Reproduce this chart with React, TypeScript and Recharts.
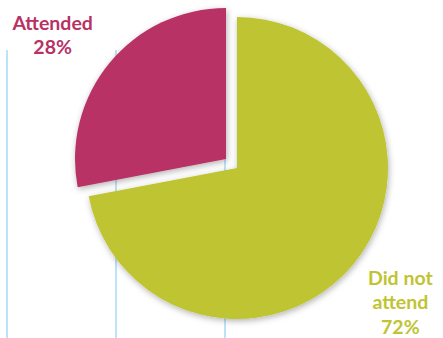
import React from "react";
import { PieChart, Pie, Cell } from "recharts";

const categories = ["Did not attend", "Attended"];
const values = [72, 28];
const labelLines = [["Did not", "attend", "72%"], ["Attended", "28%"]];
const colors = ["#BFC432", "#B83265"];
const gridLineX = [7, 116, 225];

const data = categories.map((name, i) => ({ name, value: values[i] }));
const RAD = Math.PI / 180;
const labelShift = [
  { dx: 0, dy: 0 },
  { dx: -10, dy: 12 },
];

const makeLabel = (visibleIndex: number) => (props: any) => {
  const { cx, cy, midAngle, outerRadius, index } = props;
  if (index !== visibleIndex) return null;
  const r = outerRadius + 61;
  const x = cx + r * Math.cos(-midAngle * RAD) + labelShift[index].dx;
  const y = cy + r * Math.sin(-midAngle * RAD) + labelShift[index].dy;
  const lines = labelLines[index];
  const L = 24.5;
  const first = y - ((lines.length - 1) * L) / 2 + 6;
  return (
    <text
      x={x}
      y={first}
      textAnchor="middle"
      fill={colors[index]}
      fontFamily="Lato, 'Open Sans', sans-serif"
      fontWeight={700}
      fontSize={19.5}
    >
      {lines.map((t, i) => (
        <tspan key={i} x={x} y={first + i * L}>
          {t}
        </tspan>
      ))}
    </text>
  );
};

export default function App() {
  return (
    <div style={{ position: "absolute", left: 0, top: 0, width: 443, height: 338, background: "#fff", overflow: "hidden" }}>
      <svg width={0} height={0} style={{ position: "absolute" }}>
        <defs>
          <filter id="pieShadow" x="-20%" y="-20%" width="140%" height="140%">
            <feDropShadow dx="1" dy="2" stdDeviation="3" floodColor="#000" floodOpacity="0.3" />
          </filter>
        </defs>
      </svg>
      {gridLineX.map((x, i) => (
        <div
          key={i}
          style={{ position: "absolute", left: x - 1, top: 50, width: 2, height: 288, background: "#BDE3F8" }}
        />
      ))}
      <div style={{ position: "absolute", left: 0, top: 0 }}>
        <PieChart width={443} height={338} margin={{ top: 0, right: 0, bottom: 0, left: 0 }}>
          <Pie
            data={data}
            dataKey="value"
            nameKey="name"
            cx={237}
            cy={168}
            outerRadius={151}
            startAngle={90}
            endAngle={-270}
            stroke="none"
            isAnimationActive={false}
            labelLine={false}
            label={makeLabel(0)}
          >
            {data.map((d, i) => (
              <Cell key={d.name} fill={i === 0 ? colors[0] : "none"} filter={i === 0 ? "url(#pieShadow)" : undefined} />
            ))}
          </Pie>
          <Pie
            data={data}
            dataKey="value"
            nameKey="name"
            cx={226}
            cy={159}
            outerRadius={151}
            startAngle={90}
            endAngle={-270}
            stroke="none"
            isAnimationActive={false}
            labelLine={false}
            label={makeLabel(1)}
          >
            {data.map((d, i) => (
              <Cell key={d.name} fill={i === 1 ? colors[1] : "none"} filter={i === 1 ? "url(#pieShadow)" : undefined} />
            ))}
          </Pie>
        </PieChart>
      </div>
    </div>
  );
}
